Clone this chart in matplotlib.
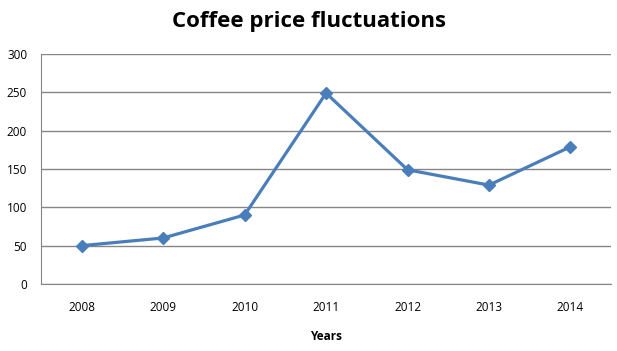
import matplotlib.pyplot as plt

# ====================== DATA ======================
years = ["2008", "2009", "2010", "2011", "2012", "2013", "2014"]
prices = [50, 60, 90, 249, 149, 129, 179]
y_ticks = [0, 50, 100, 150, 200, 250, 300]

# ====================== PLOT ======================
plt.rcParams['font.family'] = ['Open Sans', 'DejaVu Sans']

fig = plt.figure(figsize=(6.17, 3.51), dpi=100)
ax = fig.add_axes([0.0665, 0.191, 0.924, 0.655])

x = list(range(len(years)))
ax.plot(x, prices, color="#4A7EBB", linewidth=2.3, marker="D", markersize=6.5,
        zorder=3)

ax.set_xlim(-0.5, len(years) - 0.5)
ax.set_ylim(0, 300)
ax.set_yticks(y_ticks)
ax.set_xticks(x)
ax.set_xticklabels(years)

ax.grid(axis='y', color="#868686", linewidth=1)
ax.set_axisbelow(True)
for side in ["top", "right"]:
    ax.spines[side].set_visible(False)
for side in ["left", "bottom"]:
    ax.spines[side].set_color("#868686")
ax.tick_params(length=0, labelsize=8.5, pad=10)
ax.tick_params(axis='x', pad=12)

fig.text(0.5, 0.94, "Coffee price fluctuations", ha="center", va="center",
         fontsize=16, fontweight="bold")
ax.set_xlabel("Years", fontsize=8.5, fontweight="bold", labelpad=12)

plt.savefig("out.png", dpi=100)
